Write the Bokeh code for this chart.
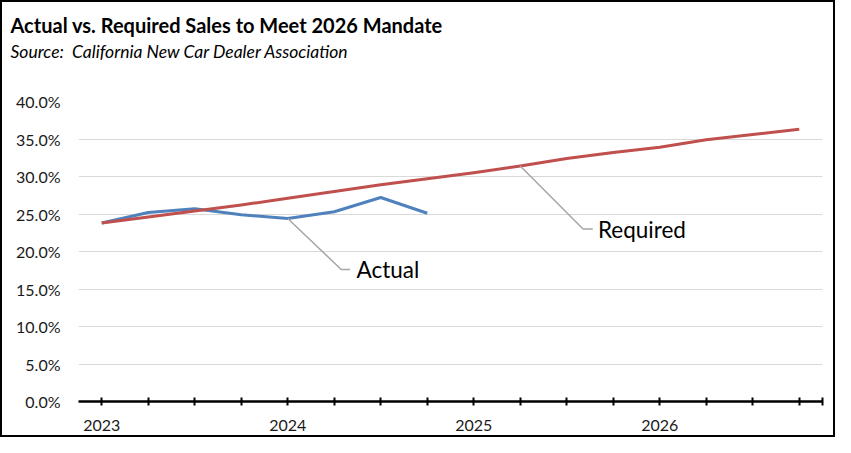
from bokeh.plotting import figure
from bokeh.models import FixedTicker, Label, Title, NumeralTickFormatter, CustomJSTickFormatter
from bokeh.embed import file_html
from bokeh.resources import INLINE

# ---- data ----
quarters = list(range(16))  # 2023 Q1 ... 2026 Q4
year_labels = ["2023", "2024", "2025", "2026"]
required_pct = [23.8, 24.6, 25.4, 26.2, 27.1, 28.0, 28.9, 29.7,
                30.5, 31.4, 32.4, 33.2, 33.9, 34.9, 35.6, 36.3]
actual_pct = [23.8, 25.2, 25.7, 24.9, 24.4, 25.3, 27.2, 25.1]
y_tick_pct = [0, 5, 10, 15, 20, 25, 30, 35, 40]

title_text = "Actual vs. Required Sales to Meet 2026 Mandate"
subtitle_text = "Source:\u00a0 California New Car Dealer Association"

required = [v / 100 for v in required_pct]
actual = [v / 100 for v in actual_pct]
y_ticks = [v / 100 for v in y_tick_pct]

FONT = "Lato"

p = figure(width=835, height=437, x_range=(-0.5, 15.5), y_range=(0, 0.40),
           output_backend="svg", toolbar_location=None,
           min_border_left=76, min_border_right=15, min_border_top=99, min_border_bottom=38)
p.styles = {"border": "2px solid black"}
p.outline_line_color = None
p.background_fill_color = "white"
p.border_fill_color = "white"

# titles: stacked from the frame outward (spacer, subtitle, title)
spacer = Title(text="\u00a0", text_font=FONT, text_font_size="1px", standoff=36)
p.add_layout(spacer, "above")
sub = Title(text=subtitle_text, text_font=FONT, text_font_size="17.5px",
            text_font_style="italic", text_color="#000000",
            align="left", offset=-68, standoff=2)
p.add_layout(sub, "above")
ttl = Title(text=title_text, text_font=FONT, text_font_size="20px",
            text_font_style="bold", text_color="#000000",
            align="left", offset=-68, standoff=1)
p.add_layout(ttl, "above")

# axes
p.yaxis.ticker = FixedTicker(ticks=y_ticks)
p.yaxis.formatter = NumeralTickFormatter(format="0.0%")
p.yaxis.axis_line_color = None
p.yaxis.major_tick_line_color = None
p.yaxis.major_tick_out = 0
p.yaxis.major_tick_in = 0
p.yaxis.minor_tick_line_color = None
p.yaxis.major_label_standoff = 18
p.yaxis.major_label_text_font = FONT
p.yaxis.major_label_text_font_size = "16px"
p.yaxis.major_label_text_color = "#1a1a1a"

p.xaxis.ticker = FixedTicker(ticks=quarters + [15.5])
p.xaxis.formatter = CustomJSTickFormatter(args=dict(labels=year_labels), code="""
const q = Math.round(tick * 2) / 2;
if (Number.isInteger(q) && q % 4 === 0 && q / 4 < labels.length) { return labels[q / 4]; }
return "";
""")
p.xaxis.axis_line_color = "black"
p.xaxis.axis_line_width = 2.5
p.xaxis.major_tick_line_color = "black"
p.xaxis.major_tick_line_width = 2
p.xaxis.major_tick_in = 4
p.xaxis.major_tick_out = 4
p.xaxis.minor_tick_line_color = None
p.xaxis.major_label_standoff = 14
p.xaxis.major_label_text_font = FONT
p.xaxis.major_label_text_font_size = "16px"
p.xaxis.major_label_text_color = "#1a1a1a"

p.xgrid.grid_line_color = None
p.ygrid.grid_line_color = "#d9d9d9"
p.ygrid.grid_line_width = 1

# series
p.line(quarters[:len(actual)], actual, line_color="#4f81bd", line_width=3, line_join="round")
p.line(quarters, required, line_color="#c0504d", line_width=3, line_join="round")

# leader lines and labels
LEAD = "#a6a6a6"
ia = 4
ay = 0.176
p.line([quarters[ia], quarters[ia] + 1.15, quarters[ia] + 1.34], [actual[ia], ay, ay],
       line_color=LEAD, line_width=1.5)
p.add_layout(Label(x=quarters[ia] + 1.48, y=ay, text="Actual", text_font=FONT,
                   text_font_size="22.5px", text_baseline="middle", text_color="#000000"))
ir = 9
ry = 0.230
p.line([quarters[ir], quarters[ir] + 1.35, quarters[ir] + 1.56], [required[ir], ry, ry],
       line_color=LEAD, line_width=1.5)
p.add_layout(Label(x=quarters[ir] + 1.67, y=ry, text="Required", text_font=FONT,
                   text_font_size="22.5px", text_baseline="middle", text_color="#000000"))

open("out.html", "w").write(file_html(p, INLINE))
